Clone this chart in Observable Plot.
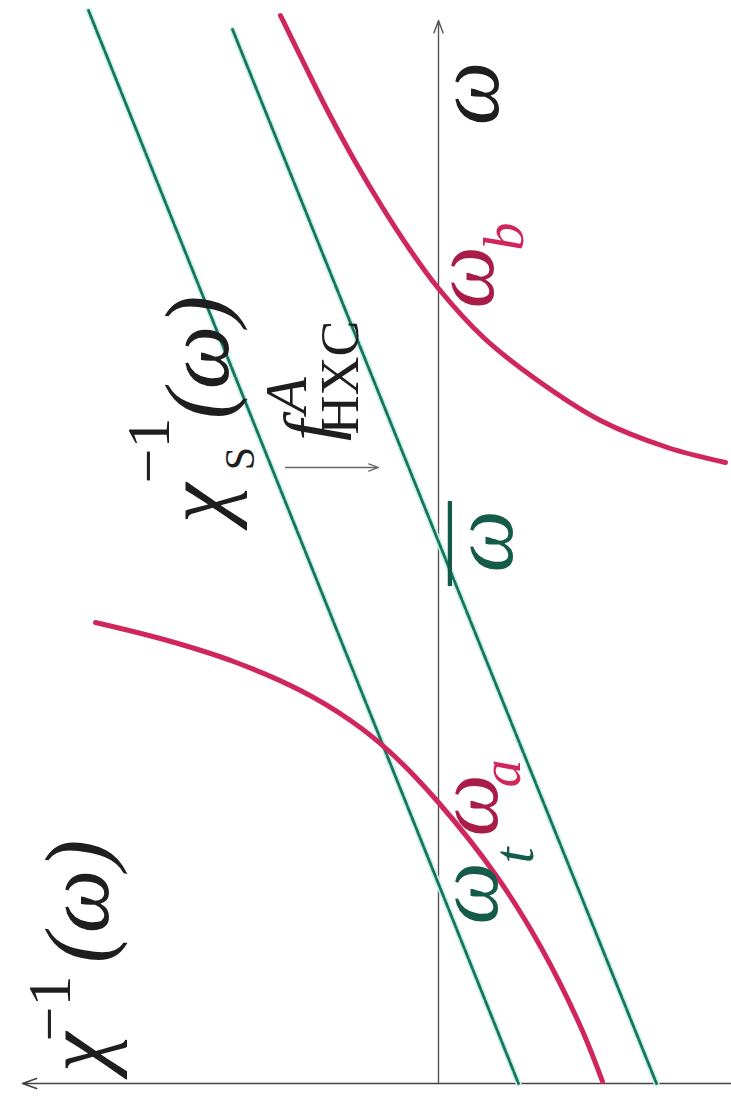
<!DOCTYPE html>
<html>
<head>
<meta charset="utf-8">
<script src="https://cdn.jsdelivr.net/npm/d3@7"></script>
<script src="https://cdn.jsdelivr.net/npm/@observablehq/plot@0.6"></script>
<style>
  html, body { margin: 0; padding: 0; background: #ffffff; }
  #chart svg { display: block; }
</style>
</head>
<body>
<div id="chart"></div>
<script>
// Inverse response functions χ⁻¹(ω): the frequency ω runs up the page,
// χ⁻¹ grows to the left.

// Interacting χ⁻¹(ω), branch above the pole (through ω_b)
const omegaUpper = [10.68, 10.21, 9.71, 9.23, 8.76, 8.33, 7.95, 7.46, 7.06, 6.63, 6.36, 6.21];
const chiUpper   = [1.58, 1.35, 1.10, 0.84, 0.56, 0.28, 0.00, -0.45, -0.95, -1.62, -2.29, -2.87];

// Interacting χ⁻¹(ω), branch below the pole (through ω_a)
const omegaLower = [4.61, 4.43, 4.22, 3.93, 3.63, 3.31, 2.81, 2.06, 1.37, 0.57, 0.02];
const chiLower   = [3.43, 2.71, 2.05, 1.38, 0.88, 0.48, 0.00, -0.59, -1.02, -1.42, -1.64];

// Kohn–Sham χ_S⁻¹(ω) (crosses zero at ω_t) and the shifted line χ_S⁻¹ − f_HXC (zero at ω̄)
const omegaKS   = [10.73, 0.00];
const chiKS     = [3.50, -0.80];
const omegaKSf  = [10.54, 0.00];
const chiKSf    = [2.06, -2.18];

// Axis extents
const omegaMax = 10.63;
const chiMax = 4.16;
const chiMin = -2.93;

// Shift arrow for f^A_HXC
const shiftFrom = 1.53, shiftTo = 0.60, shiftOmega = 6.16;

// Labels: text, χ⁻¹ position, ω position
const mainLabels = [
  {t: "χ",  chi: 3.59, om: 0.31},
  {t: "(ω)", chi: 3.59, om: 1.82},
  {t: "χ",  chi: 2.39, om: 5.80},
  {t: "(ω)", chi: 2.39, om: 7.26},
  {t: "ω",  chi: -0.31, om: 9.90}
];
const powerLabels = [
  {t: "−1", chi: 3.88, om: 0.75},
  {t: "−1", chi: 2.89, om: 6.33}
];
const redRoots = [
  {t: "ω", chi: -0.26, om: 8.06},
  {t: "ω", chi: -0.30, om: 2.78}
];
const redSubs = [
  {t: "b", chi: -0.67, om: 8.47},
  {t: "a", chi: -0.64, om: 3.10}
];
const greenRoots = [
  {t: "ω", chi: -0.45, om: 5.42},
  {t: "ω", chi: -0.30, om: 1.90}
];
const greenSubs = [
  {t: "t", chi: -0.76, om: 2.28}
];
const barLabel = [{t: "—", chi: -0.05, om: 5.40}];

const pts = (om, chi) => om.map((w, i) => ({om: w, chi: chi[i]}));

const serif = "'Liberation Serif', 'Times New Roman', serif";
const red = "#cf265c";
const green = "#17735c";
const greenText = "#145c49";
const ink = "#1e1e1e";

const txt = (data, o) => Plot.text(data, {
  x: "chi", y: "om", text: "t", rotate: -90,
  fontFamily: serif, ...o
});

const chart = Plot.plot({
  width: 731,
  height: 1099,
  margin: 0,
  x: {domain: [4.38, -2.93], axis: null},
  y: {domain: [-0.16, 10.83], axis: null},
  marks: [
    // axes
    Plot.arrow([{a: 0}], {x1: 0, y1: 0, x2: 0, y2: omegaMax,
      stroke: "#555", strokeWidth: 1.4, headLength: 14, headAngle: 40}),
    Plot.arrow([{a: 0}], {x1: chiMin, y1: 0, x2: chiMax, y2: 0,
      stroke: "#444", strokeWidth: 1.6, headLength: 14, headAngle: 40}),

    // Kohn–Sham lines with their light fringe
    Plot.line(pts(omegaKS, chiKS), {x: "chi", y: "om", stroke: "#c9f1e8", strokeWidth: 6}),
    Plot.line(pts(omegaKSf, chiKSf), {x: "chi", y: "om", stroke: "#c9f1e8", strokeWidth: 6}),
    Plot.line(pts(omegaKS, chiKS), {x: "chi", y: "om", stroke: green, strokeWidth: 2.8, strokeDasharray: "9,2"}),
    Plot.line(pts(omegaKSf, chiKSf), {x: "chi", y: "om", stroke: green, strokeWidth: 2.8, strokeDasharray: "9,2"}),

    // interacting χ⁻¹ branches
    Plot.line(pts(omegaUpper, chiUpper), {x: "chi", y: "om", stroke: red, strokeWidth: 5, curve: "catmull-rom", strokeLinecap: "round"}),
    Plot.line(pts(omegaLower, chiLower), {x: "chi", y: "om", stroke: red, strokeWidth: 5, curve: "catmull-rom", strokeLinecap: "round"}),

    // f^A_HXC shift
    Plot.arrow([{a: 0}], {x1: shiftFrom, y1: shiftOmega, x2: shiftTo, y2: shiftOmega,
      stroke: "#666", strokeWidth: 1.3, headLength: 12, headAngle: 40}),
    txt([{t: "f", chi: 1.28, om: 6.53}], {fontSize: 75, fontStyle: "italic", fill: ink}),
    txt([{t: "A", chi: 1.52, om: 6.88}], {fontSize: 60, fontStyle: "italic", fill: ink}),
    txt([{t: "HXC", chi: 0.98, om: 7.06}], {fontSize: 54, fill: ink}),

    // function labels
    txt(mainLabels, {fontSize: 90, fontStyle: "italic", fill: ink}),
    txt(powerLabels, {fontSize: 62, fill: ink}),
    txt([{t: "S", chi: 1.98, om: 6.25}], {fontSize: 42, fill: ink}),

    // zero crossings on the ω axis
    txt(redRoots, {fontSize: 88, fontStyle: "italic", fill: "#a81c48"}),
    txt(redSubs, {fontSize: 56, fontStyle: "italic", fill: red}),
    txt(greenRoots, {fontSize: 88, fontStyle: "italic", fill: greenText}),
    txt(greenSubs, {fontSize: 58, fontStyle: "italic", fill: greenText}),
    txt(barLabel, {fontSize: 84, fill: greenText})
  ]
});

document.getElementById("chart").appendChild(chart);
</script>
</body>
</html>
